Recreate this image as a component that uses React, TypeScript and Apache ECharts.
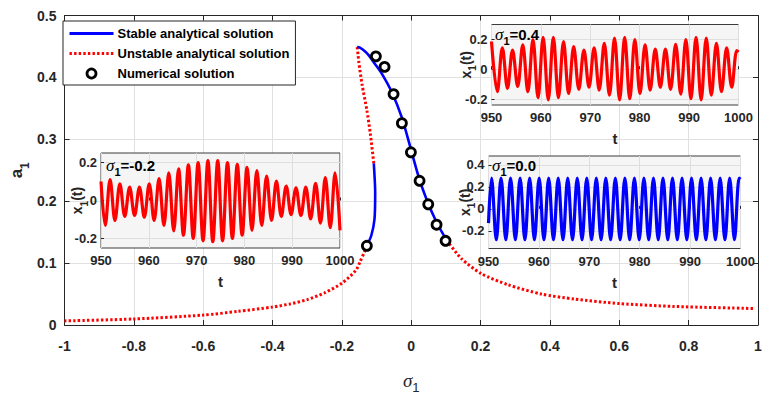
import React, { useEffect, useRef } from 'react';
import * as echarts from 'echarts';

// ---------- main bifurcation curves: [sigma1, a1] ----------
const stableUpper = [
  [-0.156, 0.449], [-0.148, 0.448], [-0.133, 0.442], [-0.123, 0.436], [-0.105, 0.422],
  [-0.085, 0.406], [-0.056, 0.376], [-0.027, 0.335], [-0.003, 0.288], [0.021, 0.24],
  [0.044, 0.203], [0.073, 0.166], [0.102, 0.137],
];
const unstableUpper = [
  [-0.156, 0.449], [-0.1535, 0.437], [-0.1515, 0.426], [-0.142, 0.389], [-0.128, 0.347],
  [-0.118, 0.309], [-0.108, 0.261],
];
const stableLower = [
  [-0.108, 0.261], [-0.104, 0.214], [-0.106, 0.171], [-0.115, 0.145], [-0.128, 0.128],
];
const unstableLeft = [
  [-0.128, 0.128], [-0.135, 0.118], [-0.147, 0.103], [-0.16, 0.088], [-0.2, 0.0675],
  [-0.25, 0.052], [-0.3, 0.041], [-0.35, 0.034], [-0.4, 0.029], [-0.5, 0.022],
  [-0.6, 0.016], [-0.8, 0.0097], [-1.0, 0.0066],
];
const unstableRight = [
  [0.102, 0.137], [0.145, 0.107], [0.202, 0.083], [0.279, 0.065], [0.375, 0.05],
  [0.47, 0.042], [0.601, 0.0346], [0.757, 0.03], [0.991, 0.0266],
];
const numericalSigma = [-0.128, -0.102, -0.077, -0.051, -0.027, -0.001, 0.024, 0.049, 0.073, 0.099];
const numericalA = [0.128, 0.434, 0.417, 0.373, 0.326, 0.279, 0.233, 0.195, 0.162, 0.136];

// ---------- inset time histories (extrema) ----------
// sigma1 = -0.2
const aTimes = [950, 950.88, 951.9, 952.92, 953.95, 954.97, 955.99, 957.02, 958.04, 959.06, 960.09,
  961.11, 962.14, 963.16, 964.18, 965.21, 966.23, 967.25, 968.28, 969.3, 970.32, 971.35, 972.37,
  973.39, 974.42, 975.44, 976.46, 977.49, 978.51, 979.53, 980.56, 981.58, 982.61, 983.63, 984.65,
  985.68, 986.7, 987.72, 988.75, 989.77, 990.79, 991.82, 992.84, 993.86, 994.89, 995.91, 996.93,
  997.96, 998.98, 1000];
const aValues = [0.1, -0.131, 0.11, -0.105, 0.088, -0.084, 0.07, -0.079, 0.07, -0.088, 0.088,
  -0.105, 0.115, -0.131, 0.145, -0.16, 0.167, -0.183, 0.188, -0.2, 0.2, -0.212, 0.21, -0.217, 0.21,
  -0.212, 0.2, -0.2, 0.19, -0.183, 0.174, -0.157, 0.157, -0.131, 0.128, -0.105, 0.102, -0.084,
  0.076, -0.074, 0.067, -0.079, 0.07, -0.097, 0.09, -0.119, 0.12, -0.143, 0.145, -0.157];
// sigma1 = 0.4
const bTimes = [950, 951.17, 952.2, 953.23, 954.26, 955.3, 956.33, 957.36, 958.39, 959.42, 960.45,
  961.49, 962.52, 963.55, 964.58, 965.61, 966.64, 967.68, 968.71, 969.74, 970.77, 971.8, 972.83,
  973.87, 974.9, 975.93, 976.96, 977.99, 979.02, 980.06, 981.09, 982.12, 983.15, 984.18, 985.21,
  986.25, 987.28, 988.31, 989.34, 990.37, 991.4, 992.44, 993.47, 994.5, 995.53, 996.56, 997.6,
  998.63, 999.66, 1000];
const bValues = [0.186, -0.151, 0.144, -0.128, 0.128, -0.116, 0.163, -0.151, 0.198, -0.191, 0.214,
  -0.205, 0.214, -0.191, 0.186, -0.163, 0.151, -0.135, 0.128, -0.121, 0.144, -0.14, 0.174, -0.174,
  0.209, -0.205, 0.214, -0.198, 0.198, -0.163, 0.163, -0.14, 0.135, -0.121, 0.135, -0.135, 0.167,
  -0.167, 0.198, -0.198, 0.214, -0.205, 0.209, -0.174, 0.174, -0.151, 0.144, -0.121, 0.125, 0.115];
// sigma1 = 0.0
const cTimes = [950, 950.6, 951.55, 952.49, 953.44, 954.38, 955.33, 956.27, 957.22, 958.16, 959.11,
  960.05, 961.0, 961.94, 962.89, 963.83, 964.78, 965.72, 966.67, 967.61, 968.56, 969.5, 970.45,
  971.39, 972.34, 973.28, 974.23, 975.17, 976.12, 977.06, 978.01, 978.95, 979.9, 980.84, 981.79,
  982.73, 983.68, 984.62, 985.57, 986.51, 987.46, 988.4, 989.35, 990.29, 991.24, 992.18, 993.13,
  994.07, 995.02, 995.96, 996.91, 997.85, 998.8, 999.74, 1000];
const cValues = [-0.13, 0.28, -0.28, 0.28, -0.28, 0.28, -0.28, 0.28, -0.28, 0.28, -0.28, 0.28,
  -0.28, 0.28, -0.28, 0.28, -0.28, 0.28, -0.28, 0.28, -0.28, 0.28, -0.28, 0.28, -0.28, 0.28, -0.28,
  0.28, -0.28, 0.28, -0.28, 0.28, -0.28, 0.28, -0.28, 0.28, -0.28, 0.28, -0.28, 0.28, -0.28, 0.28,
  -0.28, 0.28, -0.28, 0.28, -0.28, 0.28, -0.28, 0.28, -0.28, 0.28, -0.28, 0.28, 0.27];

const insetLabels = ['=-0.2', '=0.4', '=0.0'];
const tTicks = [950, 960, 970, 980, 990, 1000];

const NAME_S = 'Stable analytical solution';
const NAME_U = 'Unstable analytical solution';
const NAME_N = 'Numerical solution';

const AX = '#262626';
const FONT = 'Liberation Sans, Arial, sans-serif';
const BLUE = '#0000ff';
const RED = '#ff0000';
const DOT: number[] = [2.4, 2.2];

function buildOption(): any {
  const zip = (t: number[], v: number[]) => t.map((x, i) => [x, v[i]]);
  const boldLbl = { color: AX, fontFamily: FONT, fontWeight: 'bold', fontSize: 13 };

  const insetGrid = (left: number, top: number, width: number, height: number) => ({
    left, top, width, height, show: true, backgroundColor: '#f5f5f5',
    borderColor: '#3c3c3c', borderWidth: 1, z: 5,
  });
  const insetX = (gridIndex: number) => ({
    type: 'value', gridIndex, min: tTicks[0], max: tTicks[tTicks.length - 1], interval: 10, z: 6,
    axisLine: { show: false },
    axisTick: { show: true, inside: true, length: 3, lineStyle: { color: AX } },
    axisLabel: { ...boldLbl, margin: 6, formatter: (v: number) => String(v) },
    splitLine: { show: true, lineStyle: { color: '#dedede', width: 1 } },
    name: 't', nameLocation: 'middle', nameGap: 26, nameMoveOverlap: false,
    nameTextStyle: { color: AX, fontFamily: FONT, fontWeight: 'bold', fontSize: 15 },
  });
  const x1Name = {
    rich: {
      a: { color: AX, fontFamily: FONT, fontWeight: 'bold', fontSize: 14, lineHeight: 24, verticalAlign: 'middle' },
      s: { color: AX, fontFamily: FONT, fontWeight: 'bold', fontSize: 10, lineHeight: 24, verticalAlign: 'bottom' },
    },
  };
  const insetY = (gridIndex: number, min: number, max: number, ticks: number[], gap: number) => ({
    type: 'value', gridIndex, min, max, z: 6,
    axisLine: { show: false },
    axisTick: { show: true, inside: true, length: 3, customValues: ticks, lineStyle: { color: AX } },
    axisLabel: { ...boldLbl, margin: 4, customValues: ticks },
    splitLine: { show: true, lineStyle: { color: '#dedede', width: 1 } },
    name: '{a|x}{s|1}{a|(t)}', nameLocation: 'middle', nameGap: gap, nameRotate: 90,
    nameMoveOverlap: false,
    nameTextStyle: x1Name,
  });

  const sigRich = {
    s: { fontFamily: 'Liberation Serif, serif', fontStyle: 'italic', fontSize: 17, color: '#000', lineHeight: 24, verticalAlign: 'middle' },
    n: { fontFamily: FONT, fontWeight: 'bold', fontSize: 11, color: '#000', lineHeight: 24, verticalAlign: 'bottom' },
    b: { fontFamily: FONT, fontWeight: 'bold', fontSize: 15, color: '#000', lineHeight: 24, verticalAlign: 'middle' },
  };
  const sigText = (left: number, top: number, lbl: string) => ({
    type: 'text', left, top, z: 100,
    style: { text: `{s|σ}{n|1}{b|${lbl}}`, rich: sigRich },
  });

  const inset = (idx: number, times: number[], values: number[], color: string) => ({
    type: 'line', xAxisIndex: idx, yAxisIndex: idx, data: zip(times, values), symbol: 'none',
    smooth: 0.36, z: 7, silent: true,
    itemStyle: { color },
    lineStyle: { color, width: 3.2 },
  });

  const mainLine = (name: string, data: number[][], color: string, dotted: boolean) => ({
    name, type: 'line', data, symbol: 'none', smooth: 0.25, z: dotted ? 3 : 4,
    itemStyle: { color },
    lineStyle: dotted ? { color, width: 3, type: DOT } : { color, width: 2.6 },
  });

  return {
    animation: false,
    backgroundColor: '#fff',
    grid: [
      { left: 61, top: 15.5, width: 697, height: 313.5, show: false },
      insetGrid(101, 153, 239, 95),
      insetGrid(491.5, 24.5, 247, 80.5),
      insetGrid(488.5, 156, 252, 92.5),
    ],
    legend: {
      orient: 'vertical', left: 63, top: 21,
      data: [
        { name: NAME_S, lineStyle: { width: 3 }, itemStyle: { opacity: 0 } },
        { name: NAME_U, lineStyle: { width: 3 }, itemStyle: { opacity: 0 } },
        { name: NAME_N, itemStyle: { color: '#fff', borderColor: '#000', borderWidth: 2.8, opacity: 1 } },
      ],
      itemWidth: 44, itemHeight: 9, itemGap: 7,
      padding: [6, 6, 5, 5],
      backgroundColor: '#fff', borderColor: AX, borderWidth: 1,
      selectedMode: false, z: 20,
      textStyle: { color: '#000', fontFamily: FONT, fontWeight: 'bold', fontSize: 13, padding: [0, 0, 0, -1] },
    },
    xAxis: [
      {
        type: 'value', gridIndex: 0, min: -1, max: 1, interval: 0.2,
        axisLine: { show: true, onZero: false, lineStyle: { color: AX } },
        axisTick: { show: true, inside: true, length: 5, lineStyle: { color: AX } },
        axisLabel: { color: AX, fontFamily: FONT, fontWeight: 'bold', fontSize: 14, margin: 14 },
        splitLine: { show: true, lineStyle: { color: '#e0e0e0' } },
        name: '{s|σ}{n|1}', nameLocation: 'middle', nameGap: 41, nameMoveOverlap: false,
        nameTextStyle: {
          rich: {
            s: { fontFamily: 'Liberation Serif, serif', fontStyle: 'italic', fontSize: 19, color: AX, lineHeight: 28, verticalAlign: 'middle' },
            n: { fontFamily: FONT, fontSize: 13, color: AX, lineHeight: 28, verticalAlign: 'bottom' },
          },
        },
      },
      {
        type: 'value', gridIndex: 0, min: -1, max: 1, interval: 0.2, position: 'top',
        axisLine: { show: true, onZero: false, lineStyle: { color: AX } },
        axisTick: { show: true, inside: true, length: 5, lineStyle: { color: AX } },
        axisLabel: { show: false }, splitLine: { show: false },
      },
      insetX(1), insetX(2), insetX(3),
    ],
    yAxis: [
      {
        type: 'value', gridIndex: 0, min: 0, max: 0.5, interval: 0.1,
        axisLine: { show: true, onZero: false, lineStyle: { color: AX } },
        axisTick: { show: true, inside: true, length: 5, lineStyle: { color: AX } },
        axisLabel: { color: AX, fontFamily: FONT, fontWeight: 'bold', fontSize: 14, margin: 8 },
        splitLine: { show: true, lineStyle: { color: '#e0e0e0' } },
        name: '{a|a}{s|1}', nameLocation: 'middle', nameGap: 34, nameRotate: 90, nameMoveOverlap: false,
        nameTextStyle: {
          rich: {
            a: { fontFamily: FONT, fontWeight: 'bold', fontSize: 17, color: AX, lineHeight: 28, verticalAlign: 'middle' },
            s: { fontFamily: FONT, fontWeight: 'bold', fontSize: 12, color: AX, lineHeight: 28, verticalAlign: 'bottom' },
          },
        },
      },
      {
        type: 'value', gridIndex: 0, min: 0, max: 0.5, interval: 0.1, position: 'right',
        axisLine: { show: true, onZero: false, lineStyle: { color: AX } },
        axisTick: { show: true, inside: true, length: 5, lineStyle: { color: AX } },
        axisLabel: { show: false }, splitLine: { show: false },
      },
      insetY(1, -0.25, 0.25, [-0.2, 0, 0.2], 12),
      insetY(2, -0.24, 0.3, [-0.2, 0, 0.2], 14),
      insetY(3, -0.36, 0.48, [-0.2, 0, 0.2, 0.4], 12),
    ],
    graphic: [
      sigText(106, 157, insetLabels[0]),
      sigText(495, 26, insetLabels[1]),
      sigText(492, 157, insetLabels[2]),
    ],
    series: [
      mainLine(NAME_U, unstableUpper, RED, true),
      mainLine(NAME_U, unstableLeft, RED, true),
      mainLine(NAME_U, unstableRight, RED, true),
      mainLine(NAME_S, stableUpper, BLUE, false),
      mainLine(NAME_S, stableLower, BLUE, false),
      {
        name: NAME_N, type: 'scatter', data: numericalSigma.map((s, i) => [s, numericalA[i]]),
        symbol: 'circle', symbolSize: 9, z: 5,
        itemStyle: { color: '#fff', borderColor: '#000', borderWidth: 2.8, opacity: 1 },
      },
      inset(2, aTimes, aValues, RED),
      inset(3, bTimes, bValues, RED),
      inset(4, cTimes, cValues, BLUE),
    ],
  };
}

export default function App() {
  const ref = useRef<HTMLDivElement>(null);
  useEffect(() => {
    if (!ref.current) return;
    const chart = echarts.init(ref.current, undefined, { renderer: 'svg' });
    chart.setOption(buildOption());
    return () => chart.dispose();
  }, []);
  return <div ref={ref} style={{ width: 771, height: 399, position: 'absolute', left: 0, top: 0 }} />;
}
